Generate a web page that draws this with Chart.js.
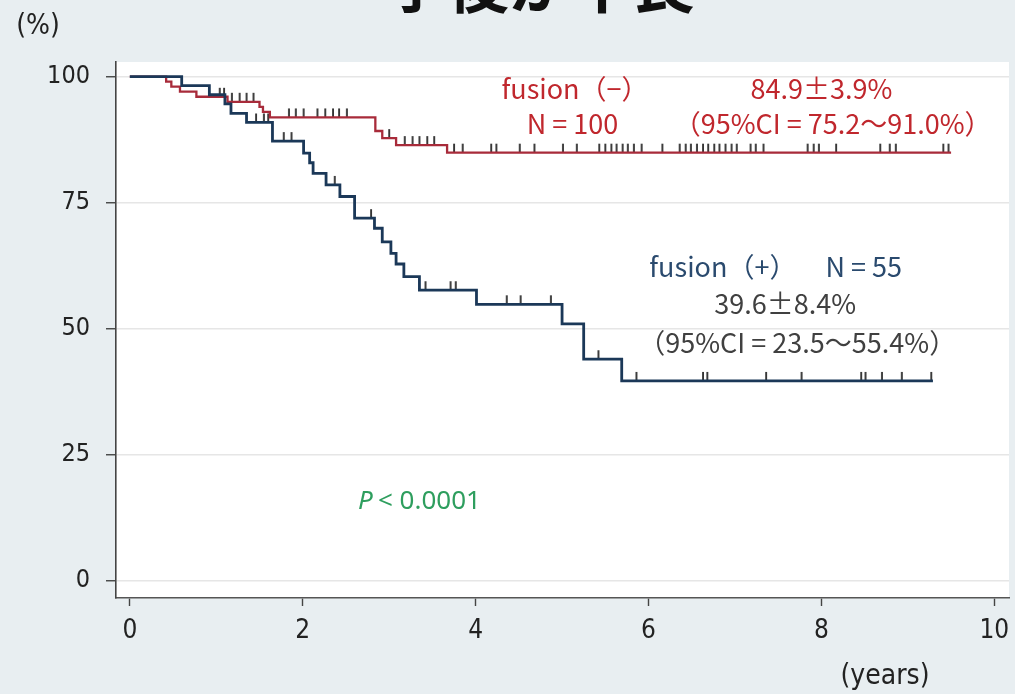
<!DOCTYPE html>
<html lang="ja">
<head>
<meta charset="UTF-8">
<title>予後が不良</title>
<script src="https://cdn.jsdelivr.net/npm/chart.js"></script>
<style>
    html, body { margin: 0; padding: 0; background: #e8eef1; }
    #wrap { position: relative; width: 1015px; height: 694px; }
</style>
</head>
<body>
<div id="wrap"><canvas id="km"></canvas></div>
<script>
// fusion (-) : time (years) of each step and survival (%) after it
const negTimes = [0, 0.42, 0.48, 0.58, 0.77, 1.13, 1.50, 1.54, 1.62, 2.84, 2.92, 3.08, 3.67, 9.50];
const negSurv  = [100, 99.0, 98.0, 97.0, 96.0, 95.0, 94.0, 93.0, 91.9, 89.2, 87.8, 86.4, 84.9, 84.9];
const negCensored = [1.04, 1.09, 1.18, 1.27, 1.35, 1.43, 1.84, 1.92, 2.01, 2.17, 2.26, 2.35, 2.42, 2.51,
    3.00, 3.18, 3.27, 3.35, 3.44, 3.52, 3.75, 3.85, 4.18, 4.24, 4.51, 4.68, 5.01, 5.17,
    5.43, 5.50, 5.57, 5.63, 5.70, 5.76, 5.83, 5.92, 6.16, 6.36, 6.43, 6.49, 6.56, 6.63,
    6.69, 6.76, 6.82, 6.89, 6.96, 7.02, 7.18, 7.24, 7.33, 7.84, 7.91, 7.97, 8.17,
    8.68, 8.79, 8.86, 9.41, 9.47];

// fusion (+)
const posTimes = [0, 0.60, 0.92, 1.10, 1.17, 1.35, 1.65, 2.01, 2.08, 2.12, 2.27, 2.43, 2.60, 2.83,
    2.92, 3.02, 3.08, 3.17, 3.35, 4.01, 5.00, 5.25, 5.69, 9.29];
const posSurv  = [100, 98.2, 96.4, 94.6, 92.7, 90.9, 87.2, 84.8, 82.9, 80.8, 78.5, 76.2, 71.9, 69.9,
    67.2, 64.9, 62.8, 60.3, 57.6, 54.8, 50.9, 43.9, 39.6, 39.6];
const posCensored = [1.46, 1.55, 1.60, 1.78, 1.87, 2.37, 2.79, 3.42, 3.71, 3.77, 4.36, 4.52, 4.87,
    5.42, 5.86, 6.63, 6.68, 7.36, 7.77, 8.46, 8.51, 8.70, 8.93, 9.27];

const xTicks = [0, 2, 4, 6, 8, 10];
const yTicks = [0, 25, 50, 75, 100];

const RED = '#a82b3a';
const BLUE = '#1b3858';
const TICK_FONT = "'Liberation Sans Narrow', 'Arial Narrow', 'DejaVu Sans Condensed', sans-serif";
const NOTE_FONT = "'Noto Sans CJK JP', sans-serif";

function survAt(times, surv, t) {
    let s = surv[0];
    for (let i = 0; i < times.length; i++) {
        if (times[i] <= t) s = surv[i];
    }
    return s;
}

function steps(times, surv) {
    return times.map((t, i) => ({ x: t, y: surv[i] }));
}

function censorPoints(list, times, surv) {
    return list.map(t => ({ x: t, y: survAt(times, surv, t) }));
}

// small vertical mark sitting on top of the curve
function censorMark(color) {
    const c = document.createElement('canvas');
    c.width = 4; c.height = 20;
    const g = c.getContext('2d');
    g.fillStyle = color;
    g.fillRect(1.2, 1, 1.7, 9);
    return c;
}
const mark = censorMark('#1e1e1e');

const background = {
    id: 'background',
    beforeDraw(chart) {
        const { ctx, chartArea: a } = chart;
        ctx.save();
        ctx.fillStyle = '#e8eef1';
        ctx.fillRect(0, 0, chart.width, chart.height);
        ctx.fillStyle = '#ffffff';
        ctx.fillRect(a.left, a.top, a.right - a.left, a.bottom - a.top);
        ctx.restore();
    }
};

const notes = {
    id: 'notes',
    afterDraw(chart) {
        const { ctx } = chart;
        const x = chart.scales.x, y = chart.scales.y;
        const put = (text, t, s, color, font) => {
            ctx.fillStyle = color;
            ctx.font = font;
            ctx.fillText(text, x.getPixelForValue(t), y.getPixelForValue(s));
        };
        ctx.save();
        ctx.textAlign = 'center';

        ctx.font = "bold 62px 'Noto Sans CJK JP', sans-serif";
        ctx.fillStyle = '#111';
        ctx.textBaseline = 'alphabetic';
        ctx.fillText('予後が不良', 540, 8);

        ctx.textBaseline = 'middle';
        ctx.font = '28px ' + TICK_FONT;
        ctx.fillStyle = '#222';
        ctx.fillText('(%)', 38, 27);
        ctx.fillText('(years)', 885, 677);

        const f = '27px ' + NOTE_FONT;
        put('fusion（−）', 5.15, 97.6, '#c0272d', f);
        put('84.9±3.9%', 8.0, 97.6, '#c0272d', f);
        put('N = 100', 5.12, 90.6, '#c0272d', f);
        put('（95%CI = 75.2～91.0%）', 8.13, 90.6, '#c0272d', f);

        put('fusion（+）', 6.86, 62.2, '#2a4a6e', f);
        put('N = 55', 8.49, 62.2, '#2a4a6e', f);
        put('39.6±8.4%', 7.58, 55.0, '#404040', f);
        put('（95%CI = 23.5～55.4%）', 7.72, 47.1, '#404040', f);

        ctx.textAlign = 'right';
        put('P', 2.81, 15.7, '#2e9e5e', "italic 26px 'Noto Sans', sans-serif");
        ctx.textAlign = 'left';
        put('< 0.0001', 2.87, 15.7, '#2e9e5e', "26px 'Noto Sans', sans-serif");
        ctx.restore();
    }
};

new Chart(document.getElementById('km'), {
    type: 'line',
    data: {
        datasets: [
            {
                label: 'fusion (+)',
                data: steps(posTimes, posSurv),
                borderColor: BLUE,
                borderWidth: 2.8,
                stepped: 'before',
                pointRadius: 0,
                fill: false
            },
            {
                label: 'fusion (-)',
                data: steps(negTimes, negSurv),
                borderColor: RED,
                borderWidth: 2.3,
                stepped: 'before',
                pointRadius: 0,
                fill: false
            },
            {
                label: 'censored (+)',
                data: censorPoints(posCensored, posTimes, posSurv),
                showLine: false,
                pointStyle: mark,
                pointRadius: 5
            },
            {
                label: 'censored (-)',
                data: censorPoints(negCensored, negTimes, negSurv),
                showLine: false,
                pointStyle: mark,
                pointRadius: 5
            }
        ]
    },
    options: {
        responsive: true,
        maintainAspectRatio: false,
        animation: false,
        layout: { padding: { top: 62, right: 4, left: 0, bottom: 0 } },
        plugins: {
            legend: { display: false },
            tooltip: { enabled: false }
        },
        scales: {
            x: {
                type: 'linear',
                min: -0.16,
                max: 10.17,
                afterBuildTicks: s => { s.ticks = xTicks.map(v => ({ value: v })); },
                afterFit: s => { s.height = 96; s.paddingLeft = 0; s.paddingRight = 0; },
                border: { color: '#555', width: 1.6 },
                grid: { drawOnChartArea: false, tickColor: '#444', tickLength: 8, tickWidth: 1.4 },
                ticks: { color: '#222', padding: 10, font: { family: TICK_FONT, size: 26 }, maxRotation: 0 }
            },
            y: {
                type: 'linear',
                min: -3.5,
                max: 102.9,
                afterBuildTicks: s => { s.ticks = yTicks.map(v => ({ value: v })); },
                afterFit: s => { s.width = 116; s.paddingTop = 0; s.paddingBottom = 0; },
                border: { color: '#444', width: 1.6 },
                grid: { color: '#e6e6e6', lineWidth: 1.5, tickColor: '#444', tickLength: 10, tickWidth: 1.4 },
                ticks: { color: '#222', padding: 16, font: { family: TICK_FONT, size: 25 } }
            }
        }
    },
    plugins: [background, notes]
});
</script>
</body>
</html>
